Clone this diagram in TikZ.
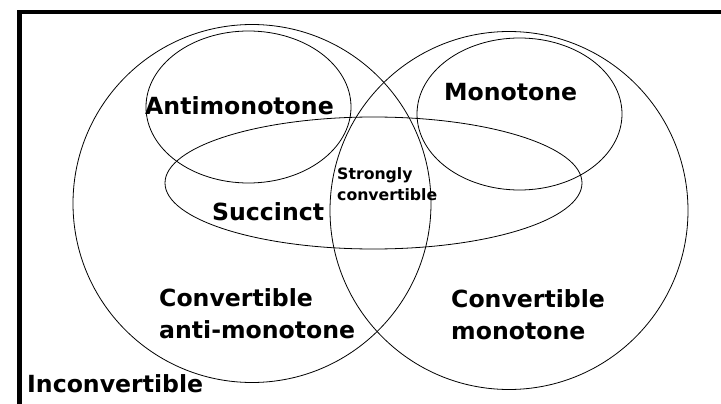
\documentclass[tikz,border=0pt]{standalone}
\usepackage{fontspec}
\setmainfont{DejaVu Sans}
\begin{document}
\begin{tikzpicture}[x=1pt,y=-1pt,
  set/.style={draw=black,line width=0.8pt},
  frameline/.style={line width=4.6pt,line join=miter},
  biglabel/.style={font=\bfseries\fontsize{23.6}{32}\selectfont,inner sep=0pt,align=left},
  smalllabel/.style={font=\bfseries\fontsize{15.7}{20.5}\selectfont,inner sep=0pt,align=left}]
  \useasboundingbox (0,0) rectangle (721,404);
  % frame along the top and left edges
  \draw[frameline] (19.7,404) -- (19.7,12.2) -- (721,12.2);
  % convertible anti-monotone and convertible monotone
  \draw[set] (252,203.5) circle [radius=179];
  \draw[set] (509,210.5) circle [radius=179];
  % antimonotone and monotone
  \draw[set] (248.5,107) ellipse [x radius=102.5, y radius=76];
  \draw[set] (519.5,114) ellipse [x radius=102.5, y radius=76];
  % succinct
  \draw[set] (373.5,183) ellipse [x radius=208.5, y radius=66];
  % labels (multi-line nodes are anchored at the baseline of their last line)
  \node[biglabel,anchor=base west] (anti) at (145,114) {Antimonotone};
  \node[biglabel,anchor=base west] (mono) at (444,101) {Monotone};
  \node[biglabel,anchor=base west] (succ) at (212,220) {Succinct};
  \node[smalllabel,anchor=base west] (strong) at (337,200) {Strongly\\convertible};
  \node[biglabel,anchor=base west] (cam) at (159,338) {Convertible\\anti-monotone};
  \node[biglabel,anchor=base west] (cm) at (451,339) {Convertible\\monotone};
  \node[biglabel,anchor=base west] (inconv) at (27,392.7) {Inconvertible};
\end{tikzpicture}
\end{document}
